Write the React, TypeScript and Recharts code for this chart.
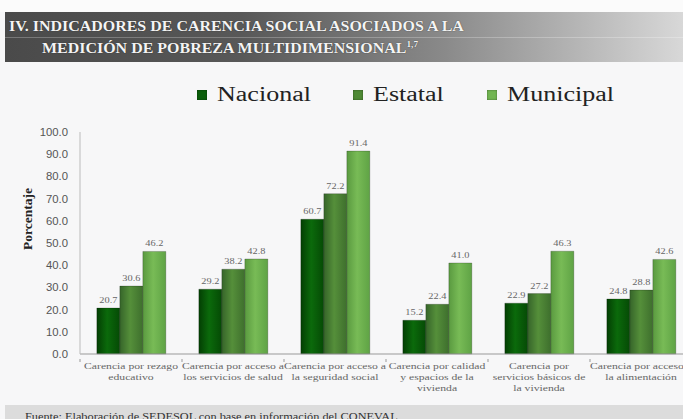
import React from "react";
import { BarChart, Bar, XAxis, YAxis, LabelList } from "recharts";

const categories = [
  "Carencia por rezago educativo",
  "Carencia por acceso a los servicios de salud",
  "Carencia por acceso a la seguridad social",
  "Carencia por calidad y espacios de la vivienda",
  "Carencia por servicios básicos de la vivienda",
  "Carencia por acceso a la alimentación",
];
const categoryLines = [
  ["Carencia por rezago", "educativo"],
  ["Carencia por acceso a", "los servicios de salud"],
  ["Carencia por acceso a", "la seguridad social"],
  ["Carencia por calidad", "y espacios de la", "vivienda"],
  ["Carencia por", "servicios básicos de", "la vivienda"],
  ["Carencia por acceso a", "la alimentación"],
];
const nacional = [20.7, 29.2, 60.7, 15.2, 22.9, 24.8];
const estatal = [30.6, 38.2, 72.2, 22.4, 27.2, 28.8];
const municipal = [46.2, 42.8, 91.4, 41.0, 46.3, 42.6];
const yTicks = [0, 10, 20, 30, 40, 50, 60, 70, 80, 90, 100];
const seriesNames = ["Nacional", "Estatal", "Municipal"];
const seriesColors = ["#0b5e0b", "#4f8a35", "#72b552"];

const data = categories.map((c, i) => ({
  name: c,
  Nacional: nacional[i],
  Estatal: estatal[i],
  Municipal: municipal[i],
}));

const SERIF = "Liberation Serif, serif";
const SANS = "Liberation Sans, sans-serif";
const STRETCH = 1.27;

const CatTick = (props: any) => {
  const { x, y, payload } = props;
  const lines = categoryLines[payload.index] || [String(payload.value)];
  const half = payload && payload.offset > 0 ? payload.offset : 51;
  return (
    <g transform={`translate(${x},${y})`}>
      <line x1={-half} x2={-half} y1={-Number(props.tickMargin || 0) - 3} y2={-Number(props.tickMargin || 0)} stroke="#999" />
      {lines.map((l, k) => (
        <text
          key={k}
          x={0}
          y={7 + k * 11}
          textAnchor="middle"
          transform={`scale(${STRETCH},1)`}
          fontFamily={SERIF}
          fontSize={9.2}
          fill="#666"
        >
          {l}
        </text>
      ))}
    </g>
  );
};

const ValueLabel = (props: any) => {
  const { x, y, width, value } = props;
  const cx = Number(x) + Number(width) / 2;
  return (
    <g transform={`translate(${cx},${Number(y) - 5})`}>
      <text
        x={0}
        y={0}
        textAnchor="middle"
        transform="scale(1.15,1)"
        fontFamily={SERIF}
        fontSize={9}
        fill="#666"
      >
        {Number(value).toFixed(1)}
      </text>
    </g>
  );
};

const gradIds = ["gN", "gE", "gM"];
const gradStops = [
  ["#033f03", "#0b6a0b", "#054a05"],
  ["#36652a", "#558f3a", "#3e6f2d"],
  ["#5a9a40", "#78bb56", "#5fa345"],
];
const legendSquareX = [197, 353, 487];

export default function App() {
  return (
    <div
      style={{
        position: "absolute",
        left: 0,
        top: 0,
        width: 683,
        height: 419,
        overflow: "hidden",
        background: "#f7f7f8",
      }}
    >
      <div
        style={{
          position: "absolute",
          left: 0,
          top: 0,
          width: 683,
          height: 12,
          background: "#fbfbfb",
        }}
      />
      <div
        style={{
          position: "absolute",
          left: 5,
          top: 12,
          width: 678,
          height: 50,
          background:
            "linear-gradient(to right, #4a4a4a 0%, #585858 35%, #8a8a8a 65%, #d8d8d8 100%)",
        }}
      >
        <div
          style={{
            position: "absolute",
            left: 0,
            right: 0,
            top: 25,
            height: 1,
            background: "rgba(255,255,255,0.25)",
          }}
        />
        <div
          style={{
            position: "absolute",
            left: 4,
            top: 6,
            lineHeight: 1,
            fontFamily: SERIF,
            fontWeight: "bold",
            fontSize: 15.5,
            color: "#f4f4f4",
            whiteSpace: "nowrap",
            transform: "scaleX(1.03)",
            transformOrigin: "left",
            textShadow: "0 0 1px #222",
          }}
        >
          IV. INDICADORES DE CARENCIA SOCIAL ASOCIADOS A LA
        </div>
        <div
          style={{
            position: "absolute",
            left: 37,
            top: 28,
            lineHeight: 1,
            fontFamily: SERIF,
            fontWeight: "bold",
            fontSize: 15.5,
            color: "#f4f4f4",
            whiteSpace: "nowrap",
            transform: "scaleX(1.03)",
            transformOrigin: "left",
            textShadow: "0 0 1px #222",
          }}
        >
          MEDICIÓN DE POBREZA MULTIDIMENSIONAL
          <sup style={{ fontSize: 9 }}>1,7</sup>
        </div>
      </div>

      {seriesNames.map((n, i) => (
        <React.Fragment key={n}>
          <div
            style={{
              position: "absolute",
              left: legendSquareX[i],
              top: 90,
              width: 10,
              height: 10,
              background: seriesColors[i],
              boxShadow: "inset 0 0 2px rgba(0,0,0,0.5)",
            }}
          />
          <div
            style={{
              position: "absolute",
              left: legendSquareX[i] + 20,
              top: 84,
              lineHeight: 1,
              fontFamily: SERIF,
              fontSize: 20.5,
              color: "#222",
              whiteSpace: "nowrap",
              transform: `scaleX(${STRETCH})`,
              transformOrigin: "left",
            }}
          >
            {n}
          </div>
        </React.Fragment>
      ))}

      <div
        style={{
          position: "absolute",
          left: 28,
          top: 219,
          transform: "translate(-50%, -50%) rotate(-90deg)",
          fontFamily: SERIF,
          fontWeight: "bold",
          fontSize: 13.5,
          lineHeight: 1,
          color: "#222",
          whiteSpace: "nowrap",
        }}
      >
        Porcentaje
      </div>

      <div style={{ position: "absolute", left: 0, top: 0 }}>
        <BarChart
          width={700}
          height={419}
          data={data}
          margin={{ top: 132, right: 8, bottom: 15, left: 0 }}
          barCategoryGap="16.5%"
          barGap={0}
        >
          <defs>
            {gradIds.map((id, i) => (
              <linearGradient key={id} id={id} x1="0" y1="0" x2="1" y2="0">
                <stop offset="0%" stopColor={gradStops[i][0]} />
                <stop offset="45%" stopColor={gradStops[i][1]} />
                <stop offset="100%" stopColor={gradStops[i][2]} />
              </linearGradient>
            ))}
          </defs>
          <XAxis
            dataKey="name"
            interval={0}
            height={50}
            tick={<CatTick />}
            axisLine={{ stroke: "#999" }}
            tickLine={false}
          />
          <YAxis
            width={80}
            domain={[0, 100]}
            ticks={yTicks}
            tickFormatter={(v: number) => v.toFixed(1)}
            tick={{ fontFamily: SANS, fontSize: 11.3, fill: "#555" }}
            tickMargin={6}
            axisLine={{ stroke: "#bbb" }}
            tickLine={false}
          />
          {seriesNames.map((n, i) => (
            <Bar
              key={n}
              dataKey={n}
              fill={`url(#${gradIds[i]})`}
              stroke="rgba(0,0,0,0.35)"
              strokeWidth={0.6}
              isAnimationActive={false}
            >
              <LabelList dataKey={n} content={<ValueLabel />} />
            </Bar>
          ))}
        </BarChart>
      </div>

      <div
        style={{
          position: "absolute",
          left: 5,
          top: 405,
          width: 678,
          height: 14,
          background: "#dcdcdc",
        }}
      >
        <div
          style={{
            position: "absolute",
            left: 20,
            top: 7,
            lineHeight: 1,
            fontFamily: SERIF,
            fontSize: 9.7,
            color: "#333",
            whiteSpace: "nowrap",
            transform: `scaleX(${STRETCH})`,
            transformOrigin: "left",
          }}
        >
          Fuente: Elaboración de SEDESOL con base en información del CONEVAL
        </div>
      </div>
    </div>
  );
}
